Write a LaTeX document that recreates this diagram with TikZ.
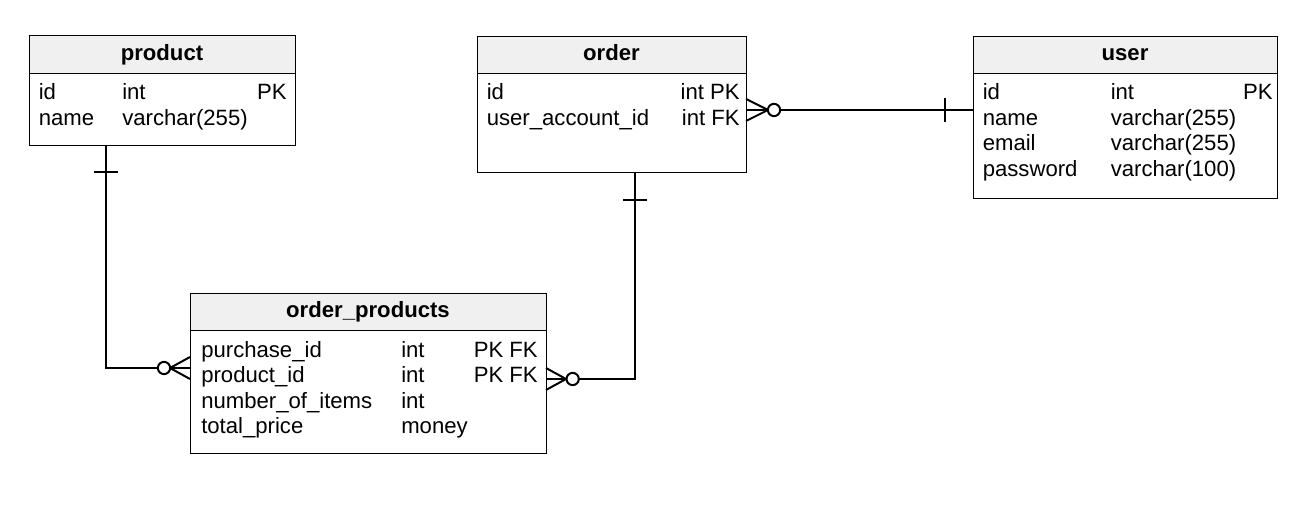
\documentclass[tikz,border=0pt]{standalone}
\usepackage{fontspec}
\setmainfont{Liberation Sans}
\definecolor{hdrgray}{HTML}{F0F0F0}
\begin{document}
\begin{tikzpicture}[x=0.75pt,y=-0.75pt,
  hdrbox/.style={draw, fill=hdrgray, line width=1.1pt, inner sep=0pt, anchor=north west},
  tblbox/.style={draw, line width=1.1pt, inner sep=0pt, anchor=north west},
  ttl/.style={anchor=base, inner sep=0pt, yshift=-1.5pt, font=\fontsize{16.6}{19}\selectfont\bfseries},
  cell/.style={anchor=base west, inner sep=0pt, yshift=-1.5pt, font=\fontsize{16.6}{19}\selectfont},
  cellr/.style={anchor=base east, inner sep=0pt, yshift=-1.5pt, font=\fontsize{16.6}{19}\selectfont},
  conn/.style={line width=1.5pt},
  ring/.style={line width=1.5pt, fill=white}]
\useasboundingbox (0,0) rectangle (1310,520);

% ---------- product ----------
\node[tblbox, minimum width=199.5pt, minimum height=82.5pt] (product) at (29,35) {};
\node[hdrbox, minimum width=199.5pt, minimum height=28.5pt] (producth) at (29,35) {};
\node[ttl] (productt) at (162,58.5) {product};
\node[cell] (p11) at (38.5,98) {id};
\node[cell] (p12) at (122,98) {int};
\node[cellr] (p13) at (287,98) {PK};
\node[cell] (p21) at (38.5,123.5) {name};
\node[cell] (p22) at (122,123.5) {varchar(255)};

% ---------- order ----------
\node[tblbox, minimum width=201.75pt, minimum height=102pt] (order) at (477,36) {};
\node[hdrbox, minimum width=201.75pt, minimum height=27.75pt] (orderh) at (477,36) {};
\node[ttl] (ordert) at (611.5,58.5) {order};
\node[cell] (o11) at (486.5,98) {id};
\node[cellr] (o12) at (740,98) {int PK};
\node[cell] (o21) at (486.5,123.5) {user\_account\_id};
\node[cellr] (o22) at (740,123.5) {int FK};

% ---------- user ----------
\node[tblbox, minimum width=228pt, minimum height=121.5pt] (user) at (973,36) {};
\node[hdrbox, minimum width=228pt, minimum height=27.75pt] (userh) at (973,36) {};
\node[ttl] (usert) at (1125,58.5) {user};
\node[cell] (u11) at (982.5,98) {id};
\node[cell] (u12) at (1110.5,98) {int};
\node[cellr] (u13) at (1273,98) {PK};
\node[cell] (u21) at (982.5,123.5) {name};
\node[cell] (u22) at (1110.5,123.5) {varchar(255)};
\node[cell] (u31) at (982.5,149) {email};
\node[cell] (u32) at (1110.5,149) {varchar(255)};
\node[cell] (u41) at (982.5,174.5) {password};
\node[cell] (u42) at (1110.5,174.5) {varchar(100)};

% ---------- order_products ----------
\node[tblbox, minimum width=267pt, minimum height=120pt] (op) at (190,293) {};
\node[hdrbox, minimum width=267pt, minimum height=27.75pt] (oph) at (190,293) {};
\node[ttl] (opt) at (368,315) {order\_products};
\node[cell] (q11) at (201,355) {purchase\_id};
\node[cell] (q12) at (401,355) {int};
\node[cellr] (q13) at (538,355) {PK FK};
\node[cell] (q21) at (201,380.5) {product\_id};
\node[cell] (q22) at (401,380.5) {int};
\node[cellr] (q23) at (538,380.5) {PK FK};
\node[cell] (q31) at (201,406) {number\_of\_items};
\node[cell] (q32) at (401,406) {int};
\node[cell] (q41) at (201,431) {total\_price};
\node[cell] (q42) at (401,431) {money};

% ---------- connector coordinates ----------
\coordinate (pB) at (106,145);
\coordinate (opL) at (190,368);
\coordinate (oB) at (635,172);
\coordinate (opR) at (546,379);
\coordinate (oR) at (746,110);
\coordinate (uL) at (973,110);

% product -> order_products
\draw[conn] (pB) |- (opL);
\draw[conn] ([xshift=-9pt,yshift=-20.25pt]pB) -- ([xshift=9pt,yshift=-20.25pt]pB);
\draw[conn] ([xshift=-15pt]opL) -- ([yshift=8.25pt]opL);
\draw[conn] ([xshift=-15pt]opL) -- (opL);
\draw[conn] ([xshift=-15pt]opL) -- ([yshift=-8.25pt]opL);
\draw[ring] ([xshift=-19.5pt]opL) circle[radius=4.6pt];

% order -> order_products
\draw[conn] (oB) |- (opR);
\draw[conn] ([xshift=-9pt,yshift=-21pt]oB) -- ([xshift=9pt,yshift=-21pt]oB);
\draw[conn] ([xshift=15pt]opR) -- ([yshift=8.25pt]opR);
\draw[conn] ([xshift=15pt]opR) -- (opR);
\draw[conn] ([xshift=15pt]opR) -- ([yshift=-8.25pt]opR);
\draw[ring] ([xshift=20pt]opR) circle[radius=4.6pt];

% order -> user
\draw[conn] (oR) -- (uL);
\draw[conn] ([xshift=-21pt,yshift=9pt]uL) -- ([xshift=-21pt,yshift=-9pt]uL);
\draw[conn] ([xshift=16.5pt]oR) -- ([yshift=8.25pt]oR);
\draw[conn] ([xshift=16.5pt]oR) -- (oR);
\draw[conn] ([xshift=16.5pt]oR) -- ([yshift=-8.25pt]oR);
\draw[ring] ([xshift=21pt]oR) circle[radius=4.6pt];
\end{tikzpicture}
\end{document}
